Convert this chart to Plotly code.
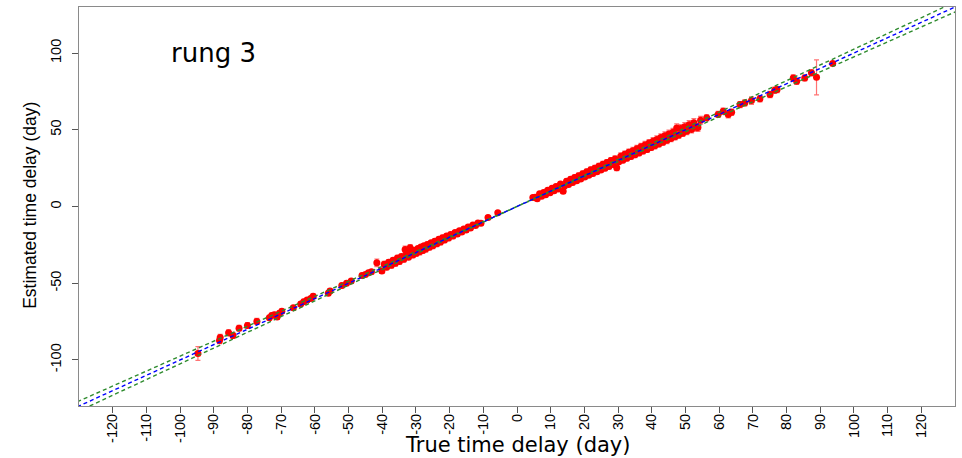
import plotly.graph_objects as go

# ---- data ----
true_delay = [
    -94.7, -88.3, -88.1, -85.6, -84.3, -82.5, -80.0, -77.2, -73.5, -72.8, -72.0, -71.2, -70.5, -69.8,
    -66.4, -64.2, -63.3, -62.3, -61.2, -60.5, -56.0, -55.5, -52.0, -50.6, -49.2, -46.0, -45.0, -44.1,
    -43.2, -41.6, -40.1,
    -39.4, -38.7, -38.1, -37.3, -36.8, -36.1, -35.5, -34.9, -34.3, -33.6, -33.2, -32.8, -32.2, -31.7,
    -31.5, -30.9, -30.4, -29.9, -29.4, -28.9, -28.5, -28.0, -27.6, -27.1, -26.6, -26.0, -25.5, -25.0,
    -24.4, -23.8, -23.2, -22.7, -22.1, -21.5, -20.9, -20.3, -19.7, -19.0, -18.4, -17.7, -17.1, -16.4,
    -15.8, -15.1, -14.5, -13.8, -13.1, -12.3, -11.6, -10.7, -8.6, -5.7,
    4.7, 5.4, 6.0, 6.7, 7.3, 7.9, 8.5, 9.1, 9.8, 10.4, 11.0, 11.6, 12.2, 12.9, 13.7, 14.1, 14.7, 15.3,
    15.9, 16.5, 17.1, 17.7, 18.3, 18.9, 19.5, 20.1, 20.7, 21.3, 21.9, 22.5, 23.1, 23.7, 24.3, 24.9,
    25.5, 26.1, 26.7, 27.3, 27.9, 28.5, 29.1, 29.6, 30.2, 30.8, 31.4, 32.0, 32.6, 33.2, 33.8, 34.4,
    35.0, 35.6, 36.2, 36.8, 37.4, 38.0, 38.6, 39.2, 39.8, 40.4, 40.9, 41.5, 42.1, 42.7, 43.3, 43.9,
    44.5, 45.1, 45.7, 46.3, 46.9, 47.4, 48.0, 48.6, 49.2, 49.8, 50.4, 51.1, 51.8, 52.5, 53.2, 53.7,
    54.5,
    56.3, 59.7, 61.2, 62.7, 63.7, 66.2, 67.6, 69.6, 72.1, 75.1, 76.5, 77.2, 82.0, 83.0, 85.4, 87.4,
    88.9, 93.7,
]
estimated_delay = [
    -95.8, -87.3, -85.3, -82.3, -84.0, -79.3, -77.5, -74.9, -72.5, -71.0, -70.5, -72.0, -69.5, -68.2,
    -66.0, -63.5, -62.0, -61.0, -60.0, -58.5, -56.5, -55.0, -51.5, -50.0, -48.5, -45.0, -44.3, -43.2,
    -42.5, -36.7, -42.1,
    -37.6, -39.6, -36.4, -38.3, -35.0, -36.9, -33.6, -35.8, -32.5, -34.4, -28.0, -31.0, -33.0, -26.9,
    -29.6, -31.6, -28.5, -30.5, -27.4, -29.5, -26.4, -28.7, -25.6, -27.7, -24.7, -26.6, -23.6, -25.5,
    -22.6, -24.3, -21.4, -23.1, -20.3, -21.9, -19.3, -20.6, -18.2, -19.3, -17.0, -18.0, -15.8, -16.6,
    -14.6, -15.3, -13.4, -14.0, -12.1, -12.4, -10.8, -10.9, -7.2, -4.1,
    5.9, 6.0, 5.1, 8.3, 6.6, 9.2, 7.6, 10.6, 9.0, 11.9, 10.2, 13.1, 11.4, 14.6, 10.0, 13.3, 16.5, 14.4,
    17.8, 15.6, 18.9, 16.7, 20.1, 17.9, 21.4, 19.2, 22.6, 20.3, 23.9, 21.5, 25.0, 22.6, 26.2, 23.8,
    27.5, 25.0, 28.6, 26.1, 29.9, 27.3, 31.0, 25.2, 29.1, 32.8, 30.2, 34.0, 31.4, 35.3, 32.6, 36.4,
    33.7, 37.6, 34.9, 38.9, 36.1, 40.1, 37.2, 41.3, 38.4, 42.5, 39.6, 43.7, 40.8, 44.9, 41.9, 46.1,
    43.1, 47.3, 44.3, 48.4, 45.5, 51.2, 46.6, 50.8, 47.8, 52.0, 49.0, 53.2, 50.2, 54.5, 51.6, 51.5,
    56.2,
    57.8, 60.0, 62.1, 60.0, 61.4, 66.4, 67.5, 69.0, 70.2, 73.0, 75.8, 76.2, 83.8, 81.6, 83.8, 87.1,
    84.2, 93.2,
]
estimate_error = [
    4.5, 2.0, 2.0, 2.0, 2.0, 1.8, 1.8, 2.0, 1.5, 1.5, 1.5, 1.5, 1.5, 1.5,
    1.5, 1.5, 1.5, 1.5, 1.5, 1.5, 1.5, 1.5, 1.5, 1.2, 1.2, 1.5, 1.2, 1.2,
    1.2, 2.5, 1.5,
    1.8, 1.5, 1.6, 1.8, 1.4, 2.0, 1.5, 1.7, 1.4, 1.9, 2.2, 1.6, 1.5, 2.0,
    1.7, 1.8, 1.4, 1.9, 1.5, 2.1, 1.5, 1.8, 1.4, 2.0, 1.5, 1.7, 1.3, 1.9,
    1.5, 1.8, 1.4, 1.9, 1.5, 1.7, 1.3, 1.6, 1.4, 1.7, 1.3, 1.5, 1.3, 1.6,
    1.2, 1.5, 1.2, 1.4, 1.2, 1.3, 1.1, 1.3, 1.2, 1.0,
    1.0, 1.1, 1.0, 1.2, 1.0, 1.3, 1.1, 1.3, 1.1, 1.4, 1.2, 1.4, 1.2, 1.5, 1.3, 1.2, 1.5, 1.3,
    1.5, 1.3, 1.6, 1.3, 1.6, 1.4, 1.7, 1.4, 1.7, 1.4, 1.8, 1.5, 1.8, 1.5, 1.9, 1.5,
    1.9, 1.6, 2.0, 1.6, 2.0, 1.6, 2.0, 1.8, 1.6, 2.1, 1.7, 2.1, 1.7, 2.1, 1.7, 2.2,
    1.8, 2.2, 1.8, 2.2, 1.8, 2.3, 1.9, 2.3, 1.9, 2.4, 2.0, 2.4, 2.0, 2.4, 2.0, 2.5,
    2.1, 2.5, 2.1, 2.5, 2.1, 2.6, 2.2, 2.6, 2.2, 2.6, 2.2, 2.7, 2.3, 2.7, 2.3, 2.5,
    2.5,
    2.0, 2.0, 2.0, 2.2, 2.0, 2.0, 2.0, 2.5, 2.0, 2.0, 2.0, 2.0, 2.0, 2.0, 2.0, 2.0,
    11.4, 1.2,
]

# reference lines: y = x and y = x * (1 +/- tolerance)
line_ends = [-140, 140]
tolerance = 0.025

x_tick_vals = list(range(-120, 121, 10))
x_tick_text = [str(v) for v in x_tick_vals]
y_tick_vals = [-100, -50, 0, 50, 100]
y_tick_text = ["-100", "-50", "0", "50", "100"]

FONT = "Liberation Sans, Arial, sans-serif"

fig = go.Figure()

fig.add_trace(go.Scatter(
    x=true_delay, y=estimated_delay, mode="markers",
    marker=dict(color="red", size=7, line=dict(width=0)),
    error_y=dict(type="data", array=estimate_error, visible=True,
                 color="rgba(255,40,40,0.65)", thickness=1.2, width=2.5),
    showlegend=False, hoverinfo="skip",
))

dash = "4px,3px"
fig.add_trace(go.Scatter(
    x=line_ends, y=[v * (1 + tolerance) for v in line_ends], mode="lines",
    line=dict(color="#2e8b2e", width=1.4, dash=dash), showlegend=False, hoverinfo="skip"))
fig.add_trace(go.Scatter(
    x=line_ends, y=[v * (1 - tolerance) for v in line_ends], mode="lines",
    line=dict(color="#2e8b2e", width=1.4, dash=dash), showlegend=False, hoverinfo="skip"))
fig.add_trace(go.Scatter(
    x=line_ends, y=line_ends, mode="lines",
    line=dict(color="blue", width=1.4, dash=dash), showlegend=False, hoverinfo="skip"))

axis_common = dict(
    showgrid=False, zeroline=False, showline=True, mirror=True, automargin=False,
    linecolor="#8a8a8a", linewidth=1.2, ticks="outside", ticklen=6,
    tickcolor="#555555", tickwidth=1,
    tickfont=dict(family=FONT, size=14.5, color="black"),
)

fig.update_layout(
    width=962, height=458,
    margin=dict(l=79, r=7, t=7, b=52, autoexpand=False),
    paper_bgcolor="white", plot_bgcolor="white",
    xaxis=dict(range=[-130, 130], tickmode="array", tickvals=x_tick_vals,
               ticktext=x_tick_text, tickangle=-90, ticklabelstandoff=-5, **axis_common),
    yaxis=dict(range=[-130, 130], tickmode="array", tickvals=y_tick_vals,
               ticktext=y_tick_text, tickangle=-90, ticklabelstandoff=5, **axis_common),
    annotations=[
        dict(text="rung 3", x=-90, y=100, xref="x", yref="y", showarrow=False,
             font=dict(family="DejaVu Sans, sans-serif", size=26, color="black"),
             xanchor="center", yanchor="middle"),
        dict(text="True time delay (day)", x=0.5, y=-0.097, xref="paper", yref="paper",
             showarrow=False, font=dict(family="DejaVu Sans, sans-serif", size=21, color="black"),
             xanchor="center", yanchor="middle"),
        dict(text="Estimated time delay (day)", x=-0.056, y=0.504, xref="paper", yref="paper",
             showarrow=False, textangle=-90,
             font=dict(family=FONT, size=17.5, color="black"),
             xanchor="center", yanchor="middle"),
    ],
)

fig.write_html(
    "out.html",
    config={"displayModeBar": False},
    post_script="document.body.style.margin='0';document.body.style.padding='0';",
)
